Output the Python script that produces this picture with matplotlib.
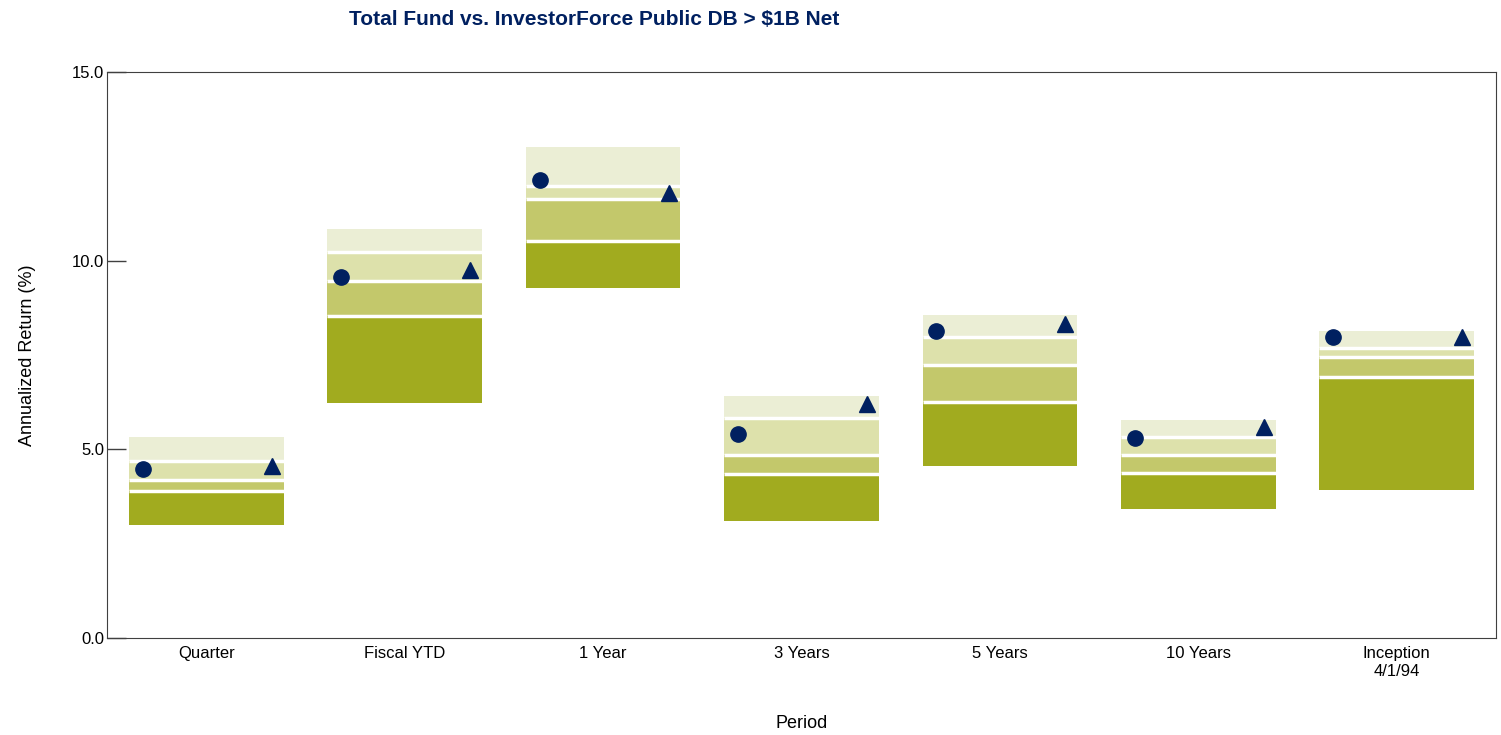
import matplotlib.pyplot as plt
import numpy as np

plt.rcParams['font.family'] = ['Liberation Sans Narrow', 'Liberation Sans', 'DejaVu Sans']

# dados
periodos = ['Quarter', 'Fiscal YTD', '1 Year', '3 Years', '5 Years', '10 Years', 'Inception\n4/1/94']
p5 = [5.32, 10.84, 13.00, 6.42, 8.56, 5.78, 8.14]
p25 = [4.69, 10.24, 11.99, 5.82, 7.99, 5.34, 7.69]
mediana = [4.20, 9.47, 11.63, 4.85, 7.24, 4.85, 7.44]
p75 = [3.90, 8.53, 10.52, 4.35, 6.25, 4.38, 6.93]
p95 = [2.99, 6.24, 9.27, 3.10, 4.55, 3.41, 3.92]
total_fund = [4.48, 9.58, 12.14, 5.40, 8.14, 5.29, 7.97]
policy_index = [4.56, 9.74, 11.80, 6.20, 8.32, 5.58, 7.99]

cores = ['#EBEED5', '#DDE1AB', '#C3C86B', '#A1AB1F']
azul = '#002060'

fig = plt.figure(figsize=(15.01, 7.35), dpi=100)
ax = fig.add_axes([0.0713, 0.132, 0.9254, 0.770])

x = np.arange(len(periodos))
largura = 0.78
faixas = [(p25, p5), (mediana, p25), (p75, mediana), (p95, p75)]
for (baixo, alto), cor in zip(faixas, cores):
    baixo = np.array(baixo); alto = np.array(alto)
    ax.bar(x, alto - baixo, bottom=baixo, width=largura, color=cor, linewidth=0, zorder=2)

# linhas brancas entre as faixas
for lim in [p25, mediana, p75]:
    ax.hlines(lim, x - largura / 2, x + largura / 2, colors='white', linewidth=2.5, zorder=3)

ax.plot(x - 0.32, total_fund, 'o', color=azul, markersize=11, zorder=4)
ax.plot(x + 0.33, policy_index, '^', color=azul, markersize=12, zorder=4)

ax.set_xlim(-0.5, 6.5)
ax.set_ylim(0, 15)
ax.set_yticks([0, 5, 10, 15])
ax.set_yticklabels(['0.0', '5.0', '10.0', '15.0'], fontsize=12)
ax.tick_params(axis='y', direction='in', length=14, width=1, color='#404040', pad=2)
ax.set_xticks(x)
ax.set_xticklabels(periodos, fontsize=12)
ax.tick_params(axis='x', length=0, pad=6)
for s in ax.spines.values():
    s.set_color('#404040')

ax.set_ylabel('Annualized Return (%)', fontsize=13, labelpad=26)
ax.set_xlabel('Period', fontsize=13, labelpad=26)
fig.text(0.396, 0.973, 'Total Fund vs. InvestorForce Public DB > $1B Net', ha='center', va='center',
         fontsize=15, fontweight='bold', color=azul)

plt.savefig('out.png', dpi=100)
plt.close()
